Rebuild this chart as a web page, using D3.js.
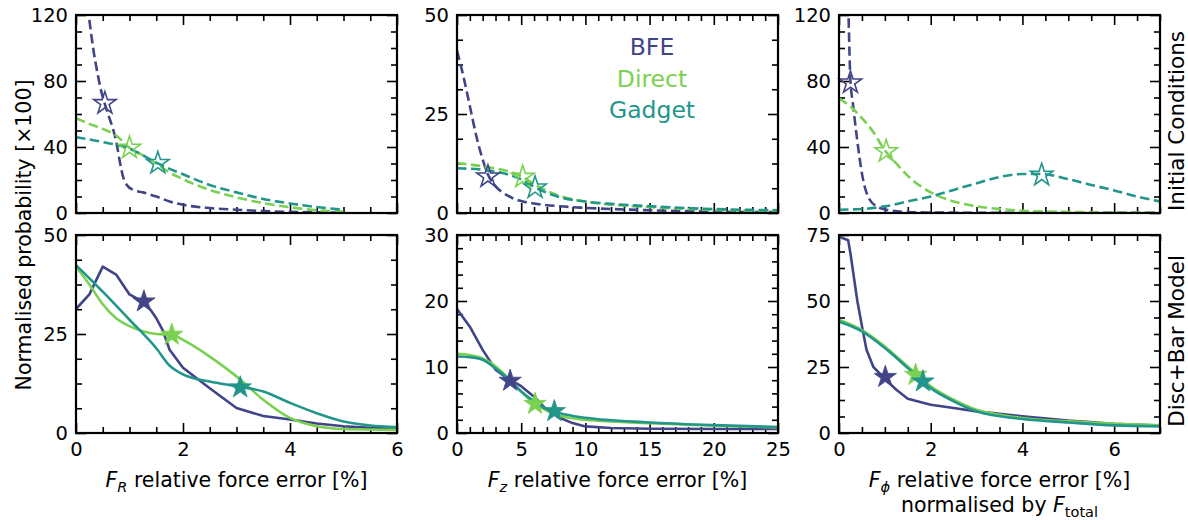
<!DOCTYPE html>
<html>
<head>
<meta charset="utf-8">
<script src="https://cdn.jsdelivr.net/npm/d3@7"></script>
<style>
  body { margin: 0; background: #fff; }
  svg { font-family: "DejaVu Sans", sans-serif; }
</style>
</head>
<body>
<svg id="fig" width="1188" height="520"></svg>
<script>
// ---- series ----
const seriesNames = ["BFE", "Direct", "Gadget"];
const seriesColors = ["#414487", "#7ad151", "#22968b"];

// ---- Initial conditions: F_R ----
const icR_BFE = [[0.25,117],[0.32,100],[0.40,85],[0.47,74],[0.54,66],[0.62,58],[0.70,50],[0.76,42],[0.82,31],[0.88,22],[0.95,17],[1.07,14],[1.25,12.5],[1.5,10],[1.75,7],[2.0,5],[2.5,3],[3.0,2],[3.5,1.2],[4.0,0.7],[4.5,0.4],[5.0,0.2]];
const icR_Direct = [[0,57.5],[0.25,54],[0.5,51],[0.75,47],[1.0,39.5],[1.25,35],[1.5,30],[1.75,24.5],[2.0,20.5],[2.5,14],[3.0,9.5],[3.5,6],[4.0,3.5],[4.5,1.6],[5.0,0.8]];
const icR_Gadget = [[0,46],[0.5,43],[1.0,39],[1.25,35],[1.5,30.5],[2.0,23.5],[2.5,17],[3.0,12.5],[3.5,8.5],[4.0,5.8],[4.5,3.6],[5.0,2]];
const icR_Stars = [[0.54,66.5],[1.0,39.5],[1.53,30.2]];

// ---- Initial conditions: F_z ----
const icZ_BFE = [[0,41],[0.5,34.5],[1,27],[1.5,19.5],[2,13.5],[2.4,9.8],[3,6.8],[4,4.3],[5,3],[6,2.4],[8,1.7],[10,1.3],[15,0.7],[20,0.35],[25,0.2]];
const icZ_Direct = [[0,12.6],[2,11.8],[4,10.5],[5,9.3],[6,7.3],[7,5.6],[8,4.3],[10,2.9],[12,2.1],[15,1.5],[20,0.8],[25,0.6]];
const icZ_Gadget = [[0,11.3],[2,10.9],[4,9.7],[5,8.5],[6,6.6],[7,5.1],[8,4.0],[10,2.9],[12,2.3],[15,1.7],[20,1.0],[25,0.7]];
const icZ_Stars = [[2.41,9.2],[5.12,9.1],[6.08,6.4]];

// ---- Initial conditions: F_phi ----
const icP_BFE = [[0.21,118],[0.25,80],[0.30,67],[0.38,48],[0.45,33],[0.5,24],[0.57,15],[0.65,9],[0.82,4],[1.03,2],[1.5,0.6],[2,0.3],[3,0.15],[5,0.1],[7,0.1]];
const icP_Direct = [[0,69.5],[0.25,64.5],[0.5,57.5],[0.75,49],[1.0,38],[1.25,30],[1.5,22.5],[2.0,12.5],[2.5,7],[3,4],[3.5,2.4],[4,1.4],[5,0.6],[6,0.3],[7,0.2]];
const icP_Gadget = [[0,2],[0.5,2.4],[1,4],[1.5,7],[2,10],[2.5,14],[3,18],[3.5,21.8],[4,23.6],[4.4,23.6],[5,20.5],[5.5,17],[6,13.7],[6.5,10],[7,7]];
const icP_Stars = [[0.25,79],[1.03,37.3],[4.42,23]];

// ---- Disc+Bar model: F_R ----
const dbR_BFE = [[0,31.3],[0.25,35],[0.5,42],[0.75,40],[1.0,35],[1.27,33],[1.4,31],[1.5,29],[1.62,26],[1.75,21],[2.0,16.5],[2.5,11.3],[3.0,6.3],[3.5,4.3],[4.0,3.4],[4.5,2.4],[5.0,1.7],[5.5,1.3],[6,1.0]];
const dbR_Direct = [[0,42],[0.25,37.5],[0.5,32.5],[0.75,29],[1.0,27],[1.25,25.7],[1.5,25],[1.8,24.8],[2.0,23.5],[2.5,19.3],[3.0,14.3],[3.5,8.4],[4.0,3.8],[4.5,1.7],[5,1.0],[6,0.8]];
const dbR_Gadget = [[0,42.4],[0.5,35.7],[1,28.6],[1.5,21.4],[1.75,17],[2,14.8],[2.5,13],[3,11.8],[3.5,10.5],[4,7.6],[4.5,5.0],[5,2.9],[5.5,1.9],[6,1.5]];
const dbR_Stars = [[1.27,33.2],[1.79,24.8],[3.07,11.5]];

// ---- Disc+Bar model: F_z ----
const dbZ_BFE = [[0,18.8],[1,16.1],[2,12.6],[3,9.6],[4,8.2],[5,7.1],[6,5.5],[7,3.5],[8,2.3],[9,1.5],[10,1.0],[12,0.75],[15,0.65],[20,0.6],[25,0.6]];
const dbZ_Direct = [[0,12],[1,11.8],[2,11.3],[3,10.1],[4,8.3],[5,6.3],[6,4.5],[7,3.4],[8,2.6],[10,2.0],[15,1.5],[20,1.1],[25,0.85]];
const dbZ_Gadget = [[0,11.6],[1,11.5],[2,11.1],[3,9.8],[4,8.2],[5,6.3],[6,4.8],[7,3.6],[8,3.0],[10,2.3],[15,1.6],[20,1.2],[25,0.9]];
const dbZ_Stars = [[4.14,7.9],[6.08,4.4],[7.58,3.3]];

// ---- Disc+Bar model: F_phi ----
const dbP_BFE = [[0,74.4],[0.2,73],[0.25,68],[0.3,62],[0.4,50],[0.5,40.5],[0.6,31.5],[0.75,25],[1.0,20.5],[1.25,16.4],[1.5,13],[2,10.7],[2.5,9.5],[3,8.2],[4,6.3],[5,4.7],[6,3.5],[7,2.8]];
const dbP_Direct = [[0,42.9],[0.5,39],[1,32.8],[1.5,25.2],[2,17.7],[2.5,12.6],[3,8.8],[3.5,6.9],[4,5.7],[5,4.4],[6,3.5],[7,2.9]];
const dbP_Gadget = [[0,42.2],[0.5,38.5],[1,32.2],[1.5,24.6],[2,17],[2.5,12],[3,8.2],[4,5.3],[5,4.0],[6,2.9],[7,2.5]];
const dbP_Stars = [[1.01,21.2],[1.67,22],[1.83,19.5]];

// ---- axis ticks ----
const ticksR_x = [0, 2, 4, 6];
const ticksZ_x = [0, 5, 10, 15, 20, 25];
const ticksP_x = [0, 2, 4, 6];
const ticksIC_y = [0, 40, 80, 120];
const ticksICz_y = [0, 25, 50];
const ticksDBr_y = [0, 25, 50];
const ticksDBz_y = [0, 10, 20, 30];
const ticksDBp_y = [0, 25, 50, 75];

const rowLabels = ["Initial Conditions", "Disc+Bar Model"];

// ---- layout ----
const svg = d3.select("#fig");
const colLeft = [76, 457, 839];
const rowTop = [15, 235];
const pw = 321, ph = 198;
const fontTick = 19.5, fontLabel = 20.5;

const panels = [
  {r:0, c:0, xd:[0,6],  yd:[0,120], xt:ticksR_x, xm:0.5, yt:ticksIC_y,  ym:10,   series:[icR_BFE,icR_Direct,icR_Gadget], stars:icR_Stars},
  {r:0, c:1, xd:[0,25], yd:[0,50],  xt:ticksZ_x, xm:1,   yt:ticksICz_y, ym:6.25, series:[icZ_BFE,icZ_Direct,icZ_Gadget], stars:icZ_Stars},
  {r:0, c:2, xd:[0,7],  yd:[0,120], xt:ticksP_x, xm:0.5, yt:ticksIC_y,  ym:10,   series:[icP_BFE,icP_Direct,icP_Gadget], stars:icP_Stars},
  {r:1, c:0, xd:[0,6],  yd:[0,50],  xt:ticksR_x, xm:0.5, yt:ticksDBr_y, ym:6.25, series:[dbR_BFE,dbR_Direct,dbR_Gadget], stars:dbR_Stars},
  {r:1, c:1, xd:[0,25], yd:[0,30],  xt:ticksZ_x, xm:1,   yt:ticksDBz_y, ym:2,    series:[dbZ_BFE,dbZ_Direct,dbZ_Gadget], stars:dbZ_Stars},
  {r:1, c:2, xd:[0,7],  yd:[0,75],  xt:ticksP_x, xm:0.5, yt:ticksDBp_y, ym:6.25, series:[dbP_BFE,dbP_Direct,dbP_Gadget], stars:dbP_Stars}
];

const star = d3.symbol().type(d3.symbolStar).size(155);

function minorTicks(dom, step, major) {
  const out = [];
  const n = Math.round((dom[1] - dom[0]) / step);
  for (let i = 0; i <= n; i++) {
    const v = +(dom[0] + i * step).toFixed(6);
    if (!major.some(m => Math.abs(m - v) < 1e-6)) out.push(v);
  }
  return out;
}

function styleAxis(g, showText) {
  g.select(".domain").remove();
  g.selectAll(".tick line").attr("stroke", "#000").attr("stroke-width", 1.6);
  g.selectAll(".tick text").attr("fill", "#000")
    .style("font-size", fontTick + "px")
    .style("font-family", "DejaVu Sans")
    .style("display", showText ? null : "none");
}

panels.forEach((p, i) => {
  const x0 = colLeft[p.c], y0 = rowTop[p.r];
  const x = d3.scaleLinear().domain(p.xd).range([0, pw]);
  const y = d3.scaleLinear().domain(p.yd).range([ph, 0]);
  const g = svg.append("g").attr("transform", `translate(${x0},${y0})`);

  const clipId = "clip" + i;
  g.append("clipPath").attr("id", clipId)
    .append("rect").attr("width", pw).attr("height", ph);

  const xMinor = minorTicks(p.xd, p.xm, p.xt);
  const yMinor = minorTicks(p.yd, p.ym, p.yt);

  // inward ticks on all four sides
  const axes = [
    [d3.axisBottom(x).tickValues(p.xt).tickSize(-10).tickPadding(9).tickFormat(d3.format("d")), `translate(0,${ph})`, p.r === 1],
    [d3.axisBottom(x).tickValues(xMinor).tickSize(-6).tickFormat(""), `translate(0,${ph})`, false],
    [d3.axisTop(x).tickValues(p.xt).tickSize(-10).tickFormat(""), null, false],
    [d3.axisTop(x).tickValues(xMinor).tickSize(-6).tickFormat(""), null, false],
    [d3.axisLeft(y).tickValues(p.yt).tickSize(-10).tickPadding(8).tickFormat(d3.format("d")), null, true],
    [d3.axisLeft(y).tickValues(yMinor).tickSize(-6).tickFormat(""), null, false],
    [d3.axisRight(y).tickValues(p.yt).tickSize(-10).tickFormat(""), `translate(${pw},0)`, false],
    [d3.axisRight(y).tickValues(yMinor).tickSize(-6).tickFormat(""), `translate(${pw},0)`, false]
  ];
  axes.forEach(([ax, tr, show]) => {
    const a = g.append("g");
    if (tr) a.attr("transform", tr);
    a.call(ax);
    styleAxis(a, show);
  });

  const smooth = d3.line().x(d => x(d[0])).y(d => y(d[1])).curve(d3.curveMonotoneX);
  const straight = d3.line().x(d => x(d[0])).y(d => y(d[1]));
  const plot = g.append("g").attr("clip-path", `url(#${clipId})`);
  p.series.forEach((s, k) => {
    // the BFE histograms of the disc+bar model are drawn as straight segments
    const gen = (p.r === 1 && k === 0) ? straight : smooth;
    plot.append("path").datum(s)
      .attr("d", gen)
      .attr("fill", "none")
      .attr("stroke", seriesColors[k])
      .attr("stroke-width", 2.6)
      .attr("stroke-linejoin", "round")
      .attr("stroke-dasharray", p.r === 0 ? "9.5,4.5" : null);
  });
  p.stars.forEach((s, k) => {
    g.append("path")
      .attr("d", star)
      .attr("transform", `translate(${x(s[0])},${y(s[1])})`)
      .attr("fill", p.r === 0 ? "none" : seriesColors[k])
      .attr("stroke", seriesColors[k])
      .attr("stroke-width", p.r === 0 ? 1.6 : 0.8)
      .attr("stroke-linejoin", "miter");
  });

  // frame
  g.append("rect").attr("width", pw).attr("height", ph)
    .attr("fill", "none").attr("stroke", "#000").attr("stroke-width", 2.2);

  // row label on the right-hand side
  if (p.c === 2) {
    svg.append("text")
      .attr("transform", `translate(1184,${y0 + ph / 2 + 7}) rotate(-90)`)
      .attr("text-anchor", "middle")
      .style("font-size", "21.5px")
      .text(rowLabels[p.r]);
  }
});

// series legend inside the upper middle panel
const legend = svg.append("g").attr("transform", "translate(652,0)");
seriesNames.forEach((n, k) => {
  legend.append("text")
    .attr("y", 55 + k * 31.5)
    .attr("text-anchor", "middle")
    .attr("fill", seriesColors[k])
    .style("font-size", "23.5px")
    .text(n);
});

// shared y label
svg.append("text")
  .attr("transform", "translate(31,235) rotate(-90)")
  .attr("text-anchor", "middle")
  .style("font-size", fontLabel + "px")
  .text("Normalised probability [×100]");

// x labels
function forceLabel(cx, by, sub) {
  const t = svg.append("text").attr("x", cx).attr("y", by)
    .attr("text-anchor", "middle").style("font-size", fontLabel + "px");
  t.append("tspan").style("font-style", "italic").text("F");
  t.append("tspan").style("font-style", "italic").style("font-size", "14.5px")
    .attr("dy", "5").text(sub);
  t.append("tspan").attr("dy", "-5").text(" relative force error [%]");
  return t;
}
forceLabel(colLeft[0] + pw / 2, 487, "R");
forceLabel(colLeft[1] + pw / 2, 487, "z");
forceLabel(colLeft[2] + pw / 2, 487, "ϕ");

const norm = svg.append("text").attr("x", colLeft[2] + pw / 2).attr("y", 512)
  .attr("text-anchor", "middle").style("font-size", fontLabel + "px");
norm.append("tspan").text("normalised by ");
norm.append("tspan").style("font-style", "italic").text("F");
norm.append("tspan").style("font-size", "14.5px").attr("dy", "5").text("total");
</script>
</body>
</html>
